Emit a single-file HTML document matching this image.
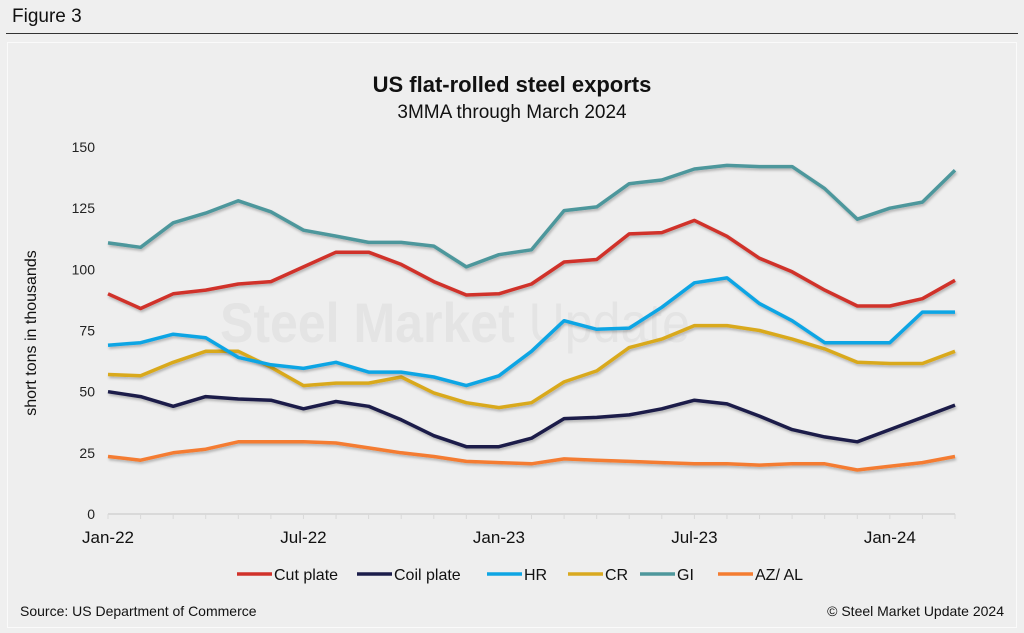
<!DOCTYPE html>
<html><head><meta charset="utf-8"><style>
html,body{margin:0;padding:0;background:#efefef;}
body{width:1024px;height:633px;position:relative;overflow:hidden;font-family:"Liberation Sans",Arial,sans-serif;}
</style></head><body>
<div style="position:absolute;left:12px;top:6px;font-size:19px;color:#111;">Figure 3</div>
<div style="position:absolute;left:6px;top:33px;width:1012px;height:1px;background:#333;"></div>
<div style="position:absolute;left:7px;top:42px;width:1008px;height:584px;border:1px solid #fafafa;background:#eeeeee;"></div>
<svg id="chart" width="1024" height="633" style="position:absolute;left:0;top:0;">
<defs><filter id="sh" x="-5%" y="-5%" width="110%" height="120%"><feDropShadow dx="1" dy="2" stdDeviation="1.2" flood-color="#000" flood-opacity="0.25"/></filter></defs>
<text x="512" y="92" text-anchor="middle" font-size="22" font-weight="bold" fill="#111">US flat-rolled steel exports</text>
<text x="512" y="118" text-anchor="middle" font-size="19" fill="#111">3MMA through March 2024</text>
<text x="220" y="342" font-size="56" font-weight="bold" fill="#e4e4e4" textLength="470" lengthAdjust="spacingAndGlyphs">Steel Market <tspan font-weight="normal">Update</tspan></text>
<text transform="translate(36,333) rotate(-90)" text-anchor="middle" font-size="16" fill="#111">short tons in thousands</text>
<g id="yticks"></g><g id="xaxis"></g><g id="series"></g>
<text x="20" y="616" font-size="14" fill="#111">Source: US Department of Commerce</text>
<text x="1004" y="616" text-anchor="end" font-size="14" fill="#111">© Steel Market Update 2024</text>
<g id="legend"></g>
</svg>
<script>
const months = ["Jan-22","Feb-22","Mar-22","Apr-22","May-22","Jun-22","Jul-22","Aug-22","Sep-22","Oct-22","Nov-22","Dec-22","Jan-23","Feb-23","Mar-23","Apr-23","May-23","Jun-23","Jul-23","Aug-23","Sep-23","Oct-23","Nov-23","Dec-23","Jan-24","Feb-24","Mar-24"];
const xLabels = ["Jan-22","Jul-22","Jan-23","Jul-23","Jan-24"];
const yTicks = [0,25,50,75,100,125,150];
const seriesNames = ["Cut plate","Coil plate","HR","CR","GI","AZ/ AL"];
const seriesColors = ["#d0312a","#1b1d4a","#0ea5e4","#d9a91f","#4e979c","#f47c30"];
const cutPlate = [90,84,90,91.5,94,95,101,107,107,102,95,89.5,90,94,103,104,114.5,115,120,113.5,104.5,99,91.5,85,85,88,95.5];
const coilPlate = [50,48,44,48,47,46.5,43,46,44,38.5,32,27.5,27.5,31,39,39.5,40.5,43,46.5,45,40,34.5,31.5,29.5,34.5,39.5,44.5];
const hr = [69,70,73.5,72,64,61,59.5,62,58,58,56,52.5,56.5,66.5,79,75.5,76,84.5,94.5,96.5,86,79,70,70,70,82.5,82.5];
const cr = [57,56.5,62,66.5,66.5,60,52.5,53.5,53.5,56,49.5,45.5,43.5,45.5,54,58.5,68,71.5,77,77,75,71.5,67.5,62,61.5,61.5,66.5];
const gi = [110.8,109,119,123,128,123.5,116,113.6,111,111,109.5,101,106,108,124,125.5,135,136.5,141,142.5,142,142,133,120.5,125,127.5,140.5];
const azal = [23.5,22,25,26.5,29.5,29.5,29.5,29,27,25,23.5,21.5,21,20.5,22.5,22,21.5,21,20.5,20.5,20,20.5,20.5,18,19.5,21,23.5];
const drawOrder = [5,1,3,2,0,4];
const allSeries = [cutPlate,coilPlate,hr,cr,gi,azal];

const NS="http://www.w3.org/2000/svg";
const X0=108,X1=955,Y0=514,Y1=147;
const xs=i=>X0+i*(X1-X0)/(months.length-1);
const ys=v=>Y0-(v/150)*(Y0-Y1);
function mk(t,a,p){const e=document.createElementNS(NS,t);for(const k in a)e.setAttribute(k,a[k]);p.appendChild(e);return e;}

const yg=document.getElementById('yticks');
yTicks.forEach(v=>{const t=mk('text',{x:95,y:ys(v)+5,'text-anchor':'end','font-size':14,fill:'#222'},yg);t.textContent=v;

});

const xg=document.getElementById('xaxis');
const ax=mk('line',{x1:X0,x2:X1,y1:Y0,y2:Y0,stroke:'#d9d9d9','stroke-width':2},xg);


months.forEach((m,i)=>{const tk=mk('line',{x1:xs(i),x2:xs(i),y1:Y0,y2:Y0+5,stroke:'#d9d9d9','stroke-width':1},xg);


if(xLabels.includes(m)){const t=mk('text',{x:xs(i),y:543,'text-anchor':'middle','font-size':17,fill:'#111'},xg);t.textContent=m;

}});

const sg=document.getElementById('series');
drawOrder.forEach(k=>{const d=allSeries[k].map((v,i)=>(i?'L':'M')+xs(i).toFixed(1)+','+ys(v).toFixed(1)).join('');
const p=mk('path',{d:d,fill:'none',stroke:seriesColors[k],'stroke-width':3.5,'stroke-linejoin':'round',filter:'url(#sh)'},sg);

});

const lg=document.getElementById('legend');
const lx=[237,357,487,568,640,718];
seriesNames.forEach((n,k)=>{const g=mk('g',{},lg);


mk('line',{x1:lx[k],x2:lx[k]+35,y1:574,y2:574,stroke:seriesColors[k],'stroke-width':3.5},g);
const t=mk('text',{x:lx[k]+37,y:580,'font-size':16,fill:'#111'},g);t.textContent=n;});
</script>
</body></html>
